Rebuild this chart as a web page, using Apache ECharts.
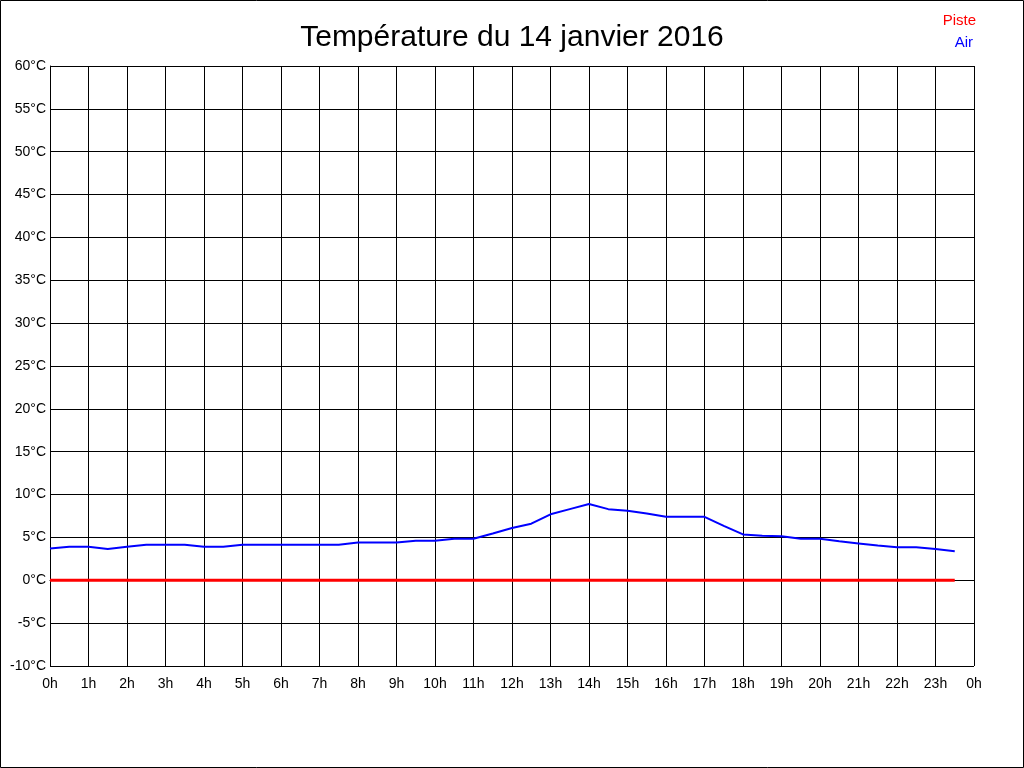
<!DOCTYPE html>
<html>
<head>
<meta charset="utf-8">
<script src="https://cdn.jsdelivr.net/npm/echarts@6/dist/echarts.min.js"></script>
<style>
html, body { margin: 0; padding: 0; background: #fff; }
#container { width: 1024px; height: 768px; }
</style>
</head>
<body>
<div id="container"></div>
<script>
var dom = document.getElementById("container");
var myChart = echarts.init(dom);

// hours, half-hour steps
var hours = [0, 0.5, 1, 1.5, 2, 2.5, 3, 3.5, 4, 4.5, 5, 5.5, 6, 6.5, 7, 7.5, 8, 8.5, 9, 9.5,
    10, 10.5, 11, 11.5, 12, 12.5, 13, 13.5, 14, 14.5, 15, 15.5, 16, 16.5, 17, 17.5, 18, 18.5,
    19, 19.5, 20, 20.5, 21, 21.5, 22, 22.5, 23, 23.5];

var airTemp = [3.7, 3.9, 3.9, 3.65, 3.9, 4.15, 4.15, 4.15, 3.9, 3.9, 4.15, 4.15, 4.15, 4.15, 4.15, 4.15,
    4.4, 4.4, 4.4, 4.6, 4.6, 4.85, 4.85, 5.45, 6.1, 6.6, 7.7, 8.3, 8.9, 8.3, 8.1, 7.8, 7.4, 7.4,
    7.4, 6.35, 5.35, 5.2, 5.15, 4.85, 4.85, 4.55, 4.3, 4.05, 3.85, 3.85, 3.65, 3.4];

var pisteTemp = [0, 0, 0, 0, 0, 0, 0, 0, 0, 0, 0, 0, 0, 0, 0, 0, 0, 0, 0, 0, 0, 0, 0, 0,
    0, 0, 0, 0, 0, 0, 0, 0, 0, 0, 0, 0, 0, 0, 0, 0, 0, 0, 0, 0, 0, 0, 0, 0];

function pairs(xs, ys) {
    return xs.map(function (x, i) { return [x, ys[i]]; });
}

var font = 'Liberation Sans, Arial, sans-serif';

option = {
    animation: false,
    backgroundColor: '#fff',
    title: {
        text: 'Température du 14 janvier 2016',
        left: 'center',
        top: 18,
        textStyle: { fontFamily: font, fontSize: 30, fontWeight: 'normal', color: '#000' }
    },
    graphic: [{
        type: 'rect',
        shape: { x: 0.5, y: 0.5, width: 1023, height: 767 },
        style: { fill: null, stroke: '#000', lineWidth: 1 }
    }, {
        type: 'text',
        right: 48,
        top: 13,
        style: { text: 'Piste', fill: '#ff0000', font: '15px ' + font }
    }, {
        type: 'text',
        right: 51,
        top: 35,
        style: { text: 'Air', fill: '#0000ff', font: '15px ' + font }
    }],
    grid: {
        left: 50,
        right: 50,
        top: 66,
        bottom: 102,
        containLabel: false
    },
    xAxis: {
        type: 'value',
        min: 0,
        max: 24,
        interval: 1,
        axisLine: { show: true, lineStyle: { color: '#000', width: 1 } },
        axisTick: { show: false },
        axisLabel: {
            color: '#000',
            fontFamily: font,
            fontSize: 14,
            margin: 11,
            formatter: function (v) { return (v % 24) + 'h'; }
        },
        splitLine: { show: true, lineStyle: { color: '#000', width: 1 } }
    },
    yAxis: {
        type: 'value',
        min: -10,
        max: 60,
        interval: 5,
        axisLine: { show: true, lineStyle: { color: '#000', width: 1 } },
        axisTick: { show: false },
        axisLabel: {
            color: '#000',
            fontFamily: font,
            fontSize: 14,
            margin: 4,
            formatter: function (v) { return v + '°C'; }
        },
        splitLine: { show: true, lineStyle: { color: '#000', width: 1 } }
    },
    series: [{
        name: 'Piste',
        type: 'line',
        showSymbol: false,
        lineStyle: { color: '#ff0000', width: 3 },
        data: pairs(hours, pisteTemp)
    }, {
        name: 'Air',
        type: 'line',
        showSymbol: false,
        lineStyle: { color: '#0000ff', width: 2 },
        data: pairs(hours, airTemp)
    }]
};
myChart.setOption(option, true);
</script>
</body>
</html>
